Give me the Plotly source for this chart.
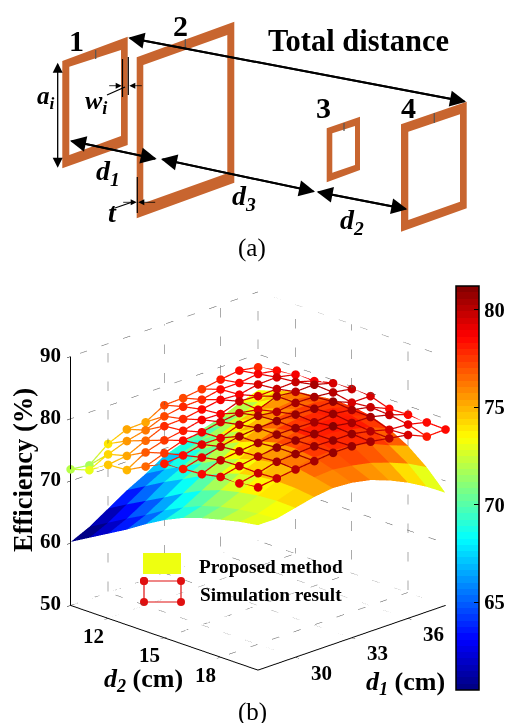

import plotly.graph_objects as go

D1 = list(range(28, 39))
D2 = list(range(10, 21))
D1_TICKS = [30, 33, 36]
D2_TICKS = [12, 15, 18]
Z_TICKS = [50, 60, 70, 80, 90]
CB_TICKS = [65, 70, 75, 80]

# rows: d2 = 10..20, columns: d1 = 28..38
PROPOSED = [
 [60.2,61.6,63.5,65.4,67.0,68.9,69.9,71.0,71.9,73.2,74.2],
 [61.9,63.3,65.2,67.1,68.7,70.5,71.5,72.5,73.2,74.4,75.2],
 [63.6,65.0,66.8,68.8,70.3,72.0,73.4,74.6,75.4,76.0,76.1],
 [65.3,66.6,68.4,70.3,71.8,73.8,74.9,75.9,76.5,76.9,76.5],
 [67.2,68.4,70.1,71.9,73.4,75.2,76.4,77.0,77.4,77.4,76.9],
 [68.9,69.9,71.6,73.3,74.6,76.4,77.4,77.8,77.9,77.6,76.8],
 [70.3,71.2,72.7,74.3,75.5,77.2,77.9,78.1,78.0,77.4,76.4],
 [71.3,72.1,73.4,74.9,76.0,77.3,77.8,77.8,77.3,76.6,75.3],
 [72.1,72.7,73.9,75.2,76.4,76.9,77.0,76.8,76.0,74.7,73.6],
 [72.8,73.1,74.1,75.1,75.8,76.0,75.6,75.0,74.0,72.8,71.2],
 [73.3,73.3,74.0,74.7,75.1,74.9,74.3,73.2,71.8,70.1,68.1],
]
SIMULATED = [
 [71.9,71.5,73.9,75.2,75.3,77.0,77.1,77.5,78.0,78.4,77.9],
 [72.8,74.3,75.4,76.1,77.3,77.8,77.9,78.5,78.5,78.9,78.4],
 [74.7,75.1,76.5,77.8,77.9,78.4,78.9,78.7,79.3,79.4,78.8],
 [74.9,76.7,77.6,78.1,78.8,78.7,79.7,79.5,79.6,79.7,78.8],
 [76.5,77.6,78.6,78.9,79.5,79.9,79.4,80.5,80.2,80.3,79.5],
 [78.0,78.3,79.0,79.0,80.1,80.5,80.1,80.5,80.4,80.1,79.6],
 [78.2,79.0,79.7,80.3,80.6,80.7,80.7,80.6,80.7,79.5,79.5],
 [78.4,79.6,80.0,80.3,80.6,80.6,80.5,80.8,80.4,79.8,78.5],
 [79.0,79.7,80.2,80.6,80.7,80.7,80.9,80.4,80.3,79.6,78.6],
 [79.0,79.6,80.4,80.6,80.8,80.7,80.7,80.1,79.3,79.1,78.4],
 [79.4,79.8,80.2,80.5,80.8,80.8,80.5,80.0,79.5,78.2,78.3],
]
CMIN, CMAX = 60.5, 81.2
SERIF = "Liberation Serif"
COPPER = "#C8652F"

def jet_scale(n=64):
    def c(v): return int(round(255 * max(0, min(1, v))))
    out = []
    for k in range(n):
        t = (k + 0.5) / n
        col = f"rgb({c(1.5-abs(4*t-3))},{c(1.5-abs(4*t-2))},{c(1.5-abs(4*t-1))})"
        out += [[k / n, col], [(k + 1) / n, col]]
    return out
JET = jet_scale()

n1, n2 = len(D1), len(D2)
vx, vy, vz, ti, tj, tk, cell = [], [], [], [], [], [], []
for r in range(n2):
    for c in range(n1):
        vx.append(D1[c]); vy.append(D2[r]); vz.append(PROPOSED[r][c])
for r in range(n2 - 1):
    for c in range(n1 - 1):
        a, b, d, e = r*n1+c, r*n1+c+1, (r+1)*n1+c, (r+1)*n1+c+1
        for tri in ((a, b, e), (a, d, e)):
            ti.append(tri[0]); tj.append(tri[1]); tk.append(tri[2])
            cell.append(vz[a])

surface = go.Mesh3d(
    x=vx, y=vy, z=vz, i=ti, j=tj, k=tk, intensity=cell, intensitymode="cell",
    colorscale=JET, cmin=CMIN, cmax=CMAX, flatshading=True, hoverinfo="skip",
    lighting=dict(ambient=1, diffuse=0, specular=0, fresnel=0),
    colorbar=dict(
        x=456/507, xanchor="left", xpad=0, ypad=0, thickness=23,
        lenmode="pixels", len=404, y=(723-488)/723, yanchor="middle",
        tickvals=CB_TICKS, ticks="inside", ticklen=5, tickcolor="black",
        outlinecolor="black", outlinewidth=1.5, ticklabeloverflow="allow",
        tickfont=dict(family=SERIF, size=20.5, color="black", weight="bold"),
    ),
)

# simulation lattice
mx, my, mz = [], [], []
for r in range(n2):
    for c in range(n1):
        mx.append(D1[c]); my.append(D2[r]); mz.append(SIMULATED[r][c])
    mx.append(None); my.append(None); mz.append(None)
for c in range(n1):
    for r in range(n2):
        mx.append(D1[c]); my.append(D2[r]); mz.append(SIMULATED[r][c])
    mx.append(None); my.append(None); mz.append(None)
mc = [v if v is not None else CMIN for v in mz]
lattice = go.Scatter3d(
    x=mx, y=my, z=mz, mode="lines+markers", hoverinfo="skip",
    line=dict(color=mc, colorscale=JET, cmin=CMIN, cmax=CMAX, width=2.5),
    marker=dict(color=mc, colorscale=JET, cmin=CMIN, cmax=CMAX, size=5, line=dict(width=0)),
    showlegend=False,
)

# dotted grid
gx, gy, gz = [], [], []
def seg(p, q):
    gx.extend([p[0], q[0], None]); gy.extend([p[1], q[1], None]); gz.extend([p[2], q[2], None])
for z in Z_TICKS:
    seg((28, 10, z), (38, 10, z)); seg((38, 10, z), (38, 20, z))
for v in D1_TICKS:
    seg((v, 10, 50), (v, 10, 90)); seg((v, 10, 50), (v, 20, 50))
for v in D2_TICKS:
    seg((38, v, 50), (38, v, 90)); seg((28, v, 50), (38, v, 50))
seg((38, 10, 50), (38, 10, 90))
grid = go.Scatter3d(x=gx, y=gy, z=gz, mode="lines", hoverinfo="skip", showlegend=False,
                    line=dict(color="#555555", width=1, dash="dot"))

fig = go.Figure([grid, surface, lattice])

# ---------- panel (a) and legend, in a page-sized 2D frame ----------
COILS = [
 ([(62.3,61),(127.7,36.7),(127.7,145),(62.3,168.3)], [(69.3,66.7),(121,50),(121,136),(69.3,155)]),
 ([(136.7,57.3),(234.3,21.7),(234.3,182.7),(136.7,218.3)], [(143.3,65),(227.3,35),(227.3,173.3),(143.3,203.3)]),
 ([(326.7,128.3),(360,116.7),(360,170),(326.7,182.3)], [(332.3,133.3),(355,126),(355,165),(332.3,172.7)]),
 ([(401,124.3),(466.7,101.7),(466.7,208.3),(401,231.7)], [(408.3,131.7),(460,114.3),(460,201.7),(408.3,220)]),
]
GAPS = [((95.7,50),(95.7,59)), ((185.3,39),(185.3,48)), ((344,123),(344,131)), ((434.3,113),(434.3,123))]
ARROWS2 = [((128.3,37.7),(466,101.7)), ((70,140.7),(156.7,159)), ((161,159),(315,191.7)),
           ((316.7,191.7),(407.3,209.3))]
ARROWS_THIN = [((57.7,62.7),(57.7,167.7))]
SMALL_ARROWS = [((107.7,85.7),(121.7,85.7)), ((143.3,85.7),(129.3,85.7)),
                ((121.7,202.3),(136.7,202.3)), ((156.7,202.3),(138.3,202.3))]
PLAIN = [((122.5,59),(122.5,97)), ((128.3,57),(128.3,95)), ((137.3,177),(137.3,213)),
         ((107,95),(125,87)), ((115,208),(131.7,202.3))]
LABELS = [
 ("<b>1</b>",76,40,30,"middle"),("<b>2</b>",180,25,30,"middle"),("<b>3</b>",323,107,30,"middle"),("<b>4</b>",408,107,30,"middle"),
 ("<b>Total distance</b>",358,41,30.5,"middle"),
 ("<b><i>a<sub>i</sub></i></b>",46,97,25,"middle"),("<b><i>w<sub>i</sub></i></b>",96,102,26,"middle"),
 ("<b><i>d<sub>1</sub></i></b>",108,172,28,"middle"),("<b><i>d<sub>3</sub></i></b>",244,197,28,"middle"),
 ("<b><i>d<sub>2</sub></i></b>",352,221,28,"middle"),("<b><i>t</i></b>",112,212,28,"middle"),
 ("(a)",252,248,25,"middle"),("(b)",252,712,25,"middle"),
 ("<b>Proposed method</b>",271,566,19.3,"middle"),("<b>Simulation result</b>",271,594,19.3,"middle"),
 ("<b><i>d<sub>2</sub></i> (cm)</b>",143,680,26,"middle"),("<b><i>d<sub>1</sub></i> (cm)</b>",405,683,26,"middle"),
]
shapes, anns = [], []
def poly(pts):
    return "M" + " L".join(f"{x},{y}" for x, y in pts) + " Z"
for outer, inner in COILS:
    shapes.append(dict(type="path", path=poly(outer)+" "+poly(inner), fillrule="evenodd",
                       fillcolor=COPPER, line=dict(width=0), xref="x", yref="y"))
for p, q in GAPS:
    shapes.append(dict(type="line", x0=p[0], y0=p[1], x1=q[0], y1=q[1], line=dict(color="#555555", width=1.2), xref="x", yref="y"))
for p, q in PLAIN:
    shapes.append(dict(type="line", x0=p[0], y0=p[1], x1=q[0], y1=q[1], line=dict(color="black", width=1.2), xref="x", yref="y"))
def arrow(tip, tail, size, width):
    anns.append(dict(x=tip[0], y=tip[1], ax=tail[0], ay=tail[1], xref="x", yref="y", axref="x", ayref="y",
                     text="", showarrow=True, arrowhead=2, arrowsize=size, arrowwidth=width, arrowcolor="black"))
for p, q in ARROWS2:
    arrow(p, q, 1.6, 2); arrow(q, p, 1.6, 2)
for p, q in ARROWS_THIN:
    arrow(p, q, 2, 1); arrow(q, p, 2, 1)
for tail, tip in SMALL_ARROWS:
    arrow(tip, tail, 1.5, 0.8)
for txt, x, y, s, anc in LABELS:
    anns.append(dict(x=x, y=y, xref="x", yref="y", text=txt, showarrow=False, xanchor="center", yanchor=anc,
                     font=dict(family=SERIF, size=s, color="black")))
anns.append(dict(x=23, y=470, xref="x", yref="y", text="<b>Efficiency (%)</b>", textangle=-90, showarrow=False,
                 font=dict(family=SERIF, size=26.5, color="black")))
LEG_X = [144, 181, 181, 144, 144]
LEG_Y = [581, 581, 602, 602, 581]
fig.add_trace(go.Scatter(x=LEG_X, y=LEG_Y, mode="lines+markers", showlegend=False, hoverinfo="skip",
                         line=dict(color="#E01010", width=1.2), marker=dict(color="#E01010", size=8), xaxis="x", yaxis="y"))
shapes.append(dict(type="rect", x0=143, x1=181, y0=553, y1=574, fillcolor="#EEFF10", line=dict(width=0), xref="x", yref="y"))

# ---------- tick labels on the 3D frame ----------
sc_ann = []
def tlabel(x, y, z, txt, xs, ys):
    sc_ann.append(dict(x=x, y=y, z=z, text=f"<b>{txt}</b>", showarrow=False, xshift=xs, yshift=ys,
                       font=dict(family=SERIF, size=21, color="black")))
for v in Z_TICKS:
    tlabel(28, 10, v, v, -20, 2)
for v in D2_TICKS:
    tlabel(28, v, 50, v, -15, -18)
for v in D1_TICKS:
    tlabel(v, 20, 50, v, 26, -16)

ax = dict(showbackground=False, showgrid=False, zeroline=False, showline=True, linecolor="black", linewidth=2,
          ticks="inside", ticklen=5, tickcolor="black", showticklabels=False, title=dict(text=""), showspikes=False)
fig.update_layout(
    width=507, height=723, margin=dict(l=0, r=0, t=0, b=0, autoexpand=False), paper_bgcolor="white", plot_bgcolor="rgba(0,0,0,0)",
    showlegend=False, shapes=shapes, annotations=anns,
    xaxis=dict(range=[0, 507], visible=False, domain=[0, 1], fixedrange=True),
    yaxis=dict(range=[723, 0], visible=False, domain=[0, 1], fixedrange=True),
    scene=dict(
        domain=dict(x=[0.0178, 1.0], y=[0.002, 0.668]),
        aspectmode="manual", aspectratio=dict(x=1.1, y=1.1, z=1.1),
        xaxis=dict(range=[28, 38], tickvals=D1_TICKS, **ax),
        yaxis=dict(range=[20, 10], tickvals=D2_TICKS, **ax),
        zaxis=dict(range=[50, 90], tickvals=Z_TICKS, **ax),
        camera=dict(projection=dict(type="orthographic"), eye=dict(x=-1.134, y=-1.134, z=0.59),
                    center=dict(x=0, y=0, z=0), up=dict(x=0, y=0, z=1)),
        annotations=sc_ann,
    ),
)
fig.write_html("out.html", config=dict(displayModeBar=False),
               post_script="document.body.style.margin='0';document.body.style.overflow='hidden';")
